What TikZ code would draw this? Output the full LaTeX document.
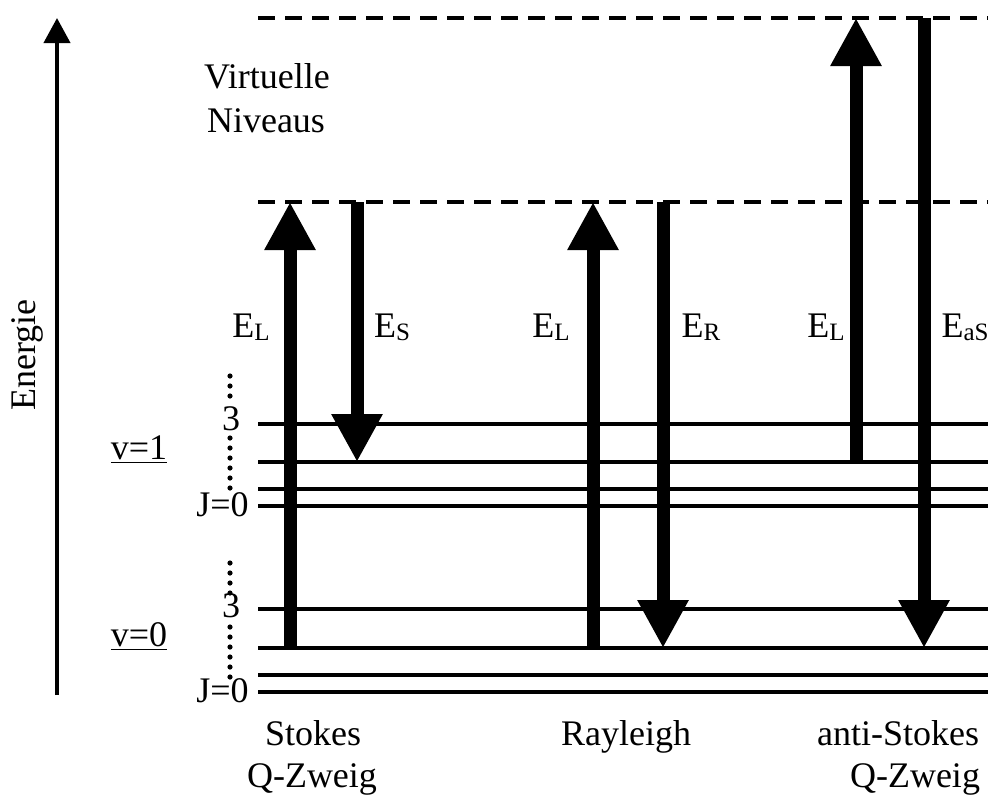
\documentclass[tikz,border=0pt]{standalone}
\usepackage{fontspec}
\setmainfont{Liberation Serif}
\usetikzlibrary{arrows.meta}
\newcommand{\esub}[1]{E\raisebox{-1.5pt}{\fontsize{12.5}{13}\selectfont #1}}
\begin{document}
\begin{tikzpicture}[x=0.5pt,y=-0.5pt,
  level/.style={line width=1.75pt},
  virt/.style={line width=2pt, dash pattern=on 8.5pt off 5pt},
  trans/.style={line width=6.5pt, -{Triangle[width=24pt,length=24pt]}},
  axisarrow/.style={line width=2pt, -{Triangle[width=13pt,length=12.5pt]}},
  dotline/.style={line width=2.6pt, line cap=round, dash pattern=on 0pt off 5pt},
  lbl/.style={font=\fontsize{18}{21}\selectfont, inner sep=0pt, anchor=base},
  ]
\useasboundingbox (0,0) rectangle (988,794);
% reference coordinates
\coordinate (R) at (988,0);
\coordinate (V2) at (258,18);
\coordinate (V1) at (258,202);
\coordinate (U3) at (258,424);
\coordinate (U2) at (258,462);
\coordinate (U1) at (258,489);
\coordinate (U0) at (258,506);
\coordinate (L3) at (258,609);
\coordinate (L2) at (258,648);
\coordinate (L1) at (258,675);
\coordinate (L0) at (258,692);
% virtual levels
\draw[virt] (V2) -- (V2 -| R);
\draw[virt] (V1) -- (V1 -| R);
% real levels
\foreach \c in {U3,U2,U1,U0,L3,L2,L1,L0}
  \draw[level] (\c) -- (\c -| R);
% energy axis
\coordinate (ea) at (57,695);
\coordinate (eb) at (57,18);
\draw[axisarrow] (ea) -- (eb);
\node[lbl, rotate=90] (energie) at (35,355) {Energie};
% dotted rotational ladders
\coordinate (d1a) at (230,376);
\coordinate (d1b) at (230,396);
\coordinate (d1c) at (230,438);
\coordinate (d1d) at (230,488);
\coordinate (d0a) at (230,563);
\coordinate (d0b) at (230,593);
\coordinate (d0c) at (230,627);
\coordinate (d0d) at (230,677);
\draw[dotline] (d1a) -- (d1b);
\draw[dotline] (d1c) -- (d1d);
\draw[dotline] (d0a) -- (d0b);
\draw[dotline] (d0c) -- (d0d);
% level labels
\node[lbl] (u3) at (231,430) {3};
\node[lbl, anchor=base east] (uj) at (249,516) {J=0};
\node[lbl] (v1) at (139,459) {\underline{v=1}};
\node[lbl] (l3) at (231,617) {3};
\node[lbl, anchor=base east] (lj) at (249,702) {J=0};
\node[lbl] (v0) at (139,646) {\underline{v=0}};
% virtual levels label
\node[lbl] (virt1) at (267,88) {Virtuelle};
\node[lbl] (virt2) at (266,132) {Niveaus};
% transitions: Stokes
\coordinate (sA) at (290,648);
\coordinate (sB) at (290,202);
\coordinate (sC) at (357,202);
\coordinate (sD) at (357,462);
\draw[trans] (sA) -- (sB);
\draw[trans] (sC) -- (sD);
% Rayleigh
\coordinate (rA) at (593,648);
\coordinate (rB) at (593,202);
\coordinate (rC) at (663,202);
\coordinate (rD) at (663,648);
\draw[trans] (rA) -- (rB);
\draw[trans] (rC) -- (rD);
% anti-Stokes
\coordinate (aA) at (856,462);
\coordinate (aB) at (856,18);
\coordinate (aC) at (924,18);
\coordinate (aD) at (924,648);
\draw[trans] (aA) -- (aB);
\draw[trans] (aC) -- (aD);
% transition labels
\node[lbl] (el1) at (251,337) {\esub{L}};
\node[lbl] (es) at (392,337) {\esub{S}};
\node[lbl] (el2) at (551,337) {\esub{L}};
\node[lbl] (er) at (701,337) {\esub{R}};
\node[lbl] (el3) at (826,337) {\esub{L}};
\node[lbl] (eas) at (965,337) {\esub{aS}};
% bottom labels
\node[lbl] (st1) at (313,745) {Stokes};
\node[lbl] (st2) at (312,787) {Q-Zweig};
\node[lbl] (ray) at (626,745) {Rayleigh};
\node[lbl] (as1) at (898,745) {anti-Stokes};
\node[lbl] (as2) at (915,787) {Q-Zweig};
\end{tikzpicture}
\end{document}
